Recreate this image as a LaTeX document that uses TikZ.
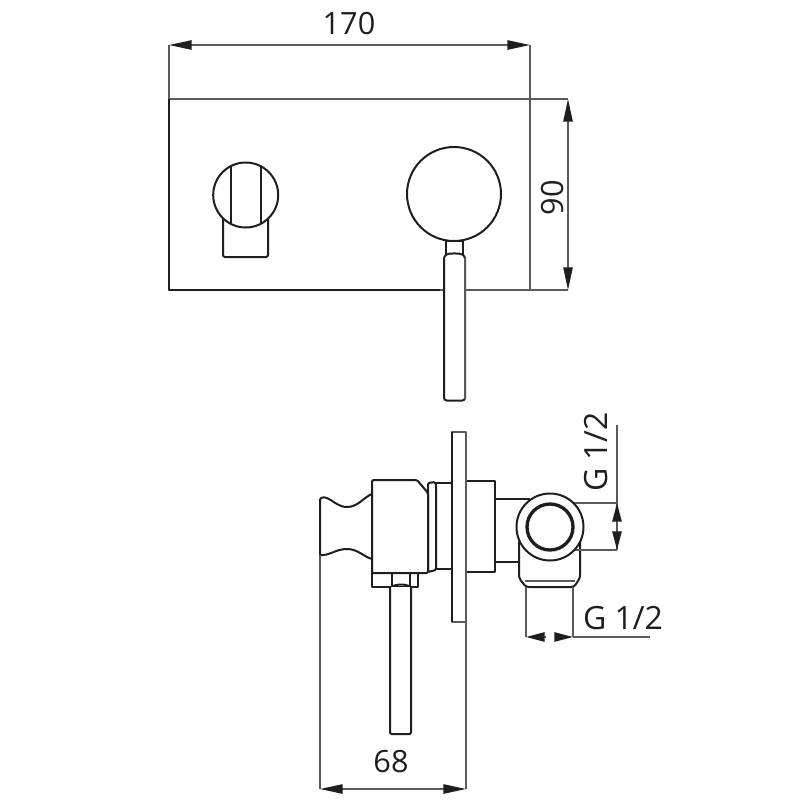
\documentclass[tikz,border=0pt]{standalone}
\usepackage{fontspec}
\setmainfont{Open Sans}
\usetikzlibrary{arrows.meta}
\definecolor{ink}{HTML}{1E1E1E}
\definecolor{dimc}{HTML}{5A5A5A}
\tikzset{
  part/.style={draw=ink,line width=1.5pt,fill=white,line join=round},
  partline/.style={draw=ink,line width=1.5pt,line join=round},
  soft/.style={draw=dimc,line width=1.7pt,line join=round},
  dimline/.style={draw=dimc,line width=1.2pt},
  dimtip/.style={{Stealth[inset=0pt,length=17pt,width=7pt,color=ink]}-{Stealth[inset=0pt,length=17pt,width=7pt,color=ink]}},
  onetip/.style={-{Stealth[inset=0pt,length=14pt,width=7pt,color=ink]}},
  lbl/.style={font=\fontsize{23}{23}\selectfont,text=ink,inner sep=0pt},
  lblg/.style={font=\fontsize{24}{24}\selectfont,text=ink,inner sep=0pt}
}
\begin{document}
\begin{tikzpicture}[x=0.75pt,y=-0.75pt]
\useasboundingbox[fill=white] (0,0) rectangle (800,800);
% ---- coordinates for dimensions
\coordinate (wL) at (169,45); \coordinate (wR) at (530,45);
\coordinate (hT) at (568,99); \coordinate (hB) at (568,290);
\coordinate (dL) at (320,789); \coordinate (dR) at (466,789);
\coordinate (gTop) at (617,425); \coordinate (gA) at (617,503); \coordinate (gB) at (617,550);
\coordinate (gaT) at (617,524); \coordinate (gbT) at (617,530);
\coordinate (pL) at (526,637); \coordinate (pR) at (573,637); \coordinate (pE) at (650,637);
\coordinate (paT) at (546,637); \coordinate (pbT) at (556,637);
% ---- front view
\draw[soft] (169,99) rectangle (530,290);
\draw[partline] (169,99) -- (169,290) -- (440,290);
\coordinate (pTL) at (169,99); \coordinate (pTR) at (530,99);
\coordinate (pBR) at (530,290);
\draw[dimline] (wL) -- (pTL);
\draw[dimline] (wR) -- (pTR);
\draw[dimline] (pTR) -- (hT);
\draw[dimline] (pBR) -- (hB);
\draw[dimline,dimtip] (wL) -- (wR);
\draw[dimline,dimtip] (hT) -- (hB);
\node[lbl] (t170) at (349,24) {170};
\node[lbl,rotate=90] (t90) at (553,198) {90};
% left spout
\draw[partline,rounded corners=1.5pt] (223,216) -- (223,257) -- (268,257) -- (268,216);
\draw[part] (245.7,195) circle[radius=32.5];
\draw[partline] (230.7,166.5) -- (230.7,223.5);
\draw[partline] (260.7,166.5) -- (260.7,223.5);
% right knob + lever
\draw[part] (446,241) rectangle (463,258);
\draw[part] (454,194) circle[radius=47];
\draw[part,rounded corners=2pt] (444,400.5) -- (444,256) .. controls (449,253) and (460,253) .. (465,256) -- (465,400.5) -- cycle;
\draw[soft] (465,258) -- (465,399);
% ---- side view: lever and collar
\draw[part] (320,555) -- (320,500) .. controls (320,497) and (324,497) .. (327,498) .. controls (334,501) and (338,507) .. (347,507) .. controls (358,507) and (364,497) .. (372,494) -- (372,559) .. controls (364,557) and (358,549) .. (347,549) .. controls (335,549) and (330,556) .. (320,555) -- cycle;
\draw[part] (372,573) rectangle (418,587);
\draw[partline] (392,573) -- (392,587);
\draw[partline] (410,573) -- (410,587);
\draw[partline] (393,586) .. controls (397,584) and (405,584) .. (409,586);
\draw[part,rounded corners=1pt] (390,587) -- (390,734) -- (411,734) -- (411,587);
\draw[part,rounded corners=1pt] (428,483) -- (435,482) -- (436,484) -- (436,570) -- (428,572) -- cycle;
\draw[partline] (436,483) -- (452,483);
\draw[partline] (436,569) -- (452,569);
\draw[part,rounded corners=1pt] (372,480) -- (417,480) -- (428,493) -- (428,573) -- (372,573) -- cycle;
% body behind plate
\draw[part] (466,481) -- (495,481) -- (495,572) -- (466,572);
\draw[partline] (495,499) -- (530,499);
\draw[partline] (495,562) -- (530,562);
% elbow
\draw[part,rounded corners=2pt] (519,540) -- (519,578) -- (526,587) -- (574,587) -- (580,578) -- (580,540) -- cycle;
\draw[soft] (525,581) -- (575,581);
\draw[soft,rounded corners=1pt] (526,587) -- (526,637);
\draw[soft,rounded corners=1pt] (573,587) -- (573,637);
% plate in section
\draw[soft,fill=white] (452,432) rectangle (466,622);
\draw[partline] (452,432) -- (452,622);
% extension lines
\coordinate (cA) at (560,503); \coordinate (cB) at (570,550);
\draw[dimline] (cA) -- (gA);
\draw[dimline] (cB) -- (gB);
\draw[dimline] (gTop) -- (gB);
\draw[part] (550,527) circle[radius=33.5];
\draw[draw=ink,line width=2.5pt] (550,527) circle[radius=23];
% 68 dimension
\coordinate (eL) at (320,555); \coordinate (eR) at (466,622);
\draw[soft,line width=1.3pt] (eL) -- (dL);
\draw[soft,line width=1.3pt] (eR) -- (dR);
\draw[dimline,dimtip] (dL) -- (dR);
\node[lbl] (t68) at (391,762) {68};
% G 1/2 dimensions
\draw[dimline,onetip] (gaT) -- (gA);
\draw[dimline,onetip] (gbT) -- (gB);
\draw[dimline,onetip] (paT) -- (pL);
\draw[dimline,onetip] (pbT) -- (pR);
\draw[dimline] (pR) -- (pE);
\node[lblg] (tg1) at (623,618) {G 1/2};
\node[lblg,rotate=90] (tg2) at (596,452) {G 1/2};
\end{tikzpicture}
\end{document}
